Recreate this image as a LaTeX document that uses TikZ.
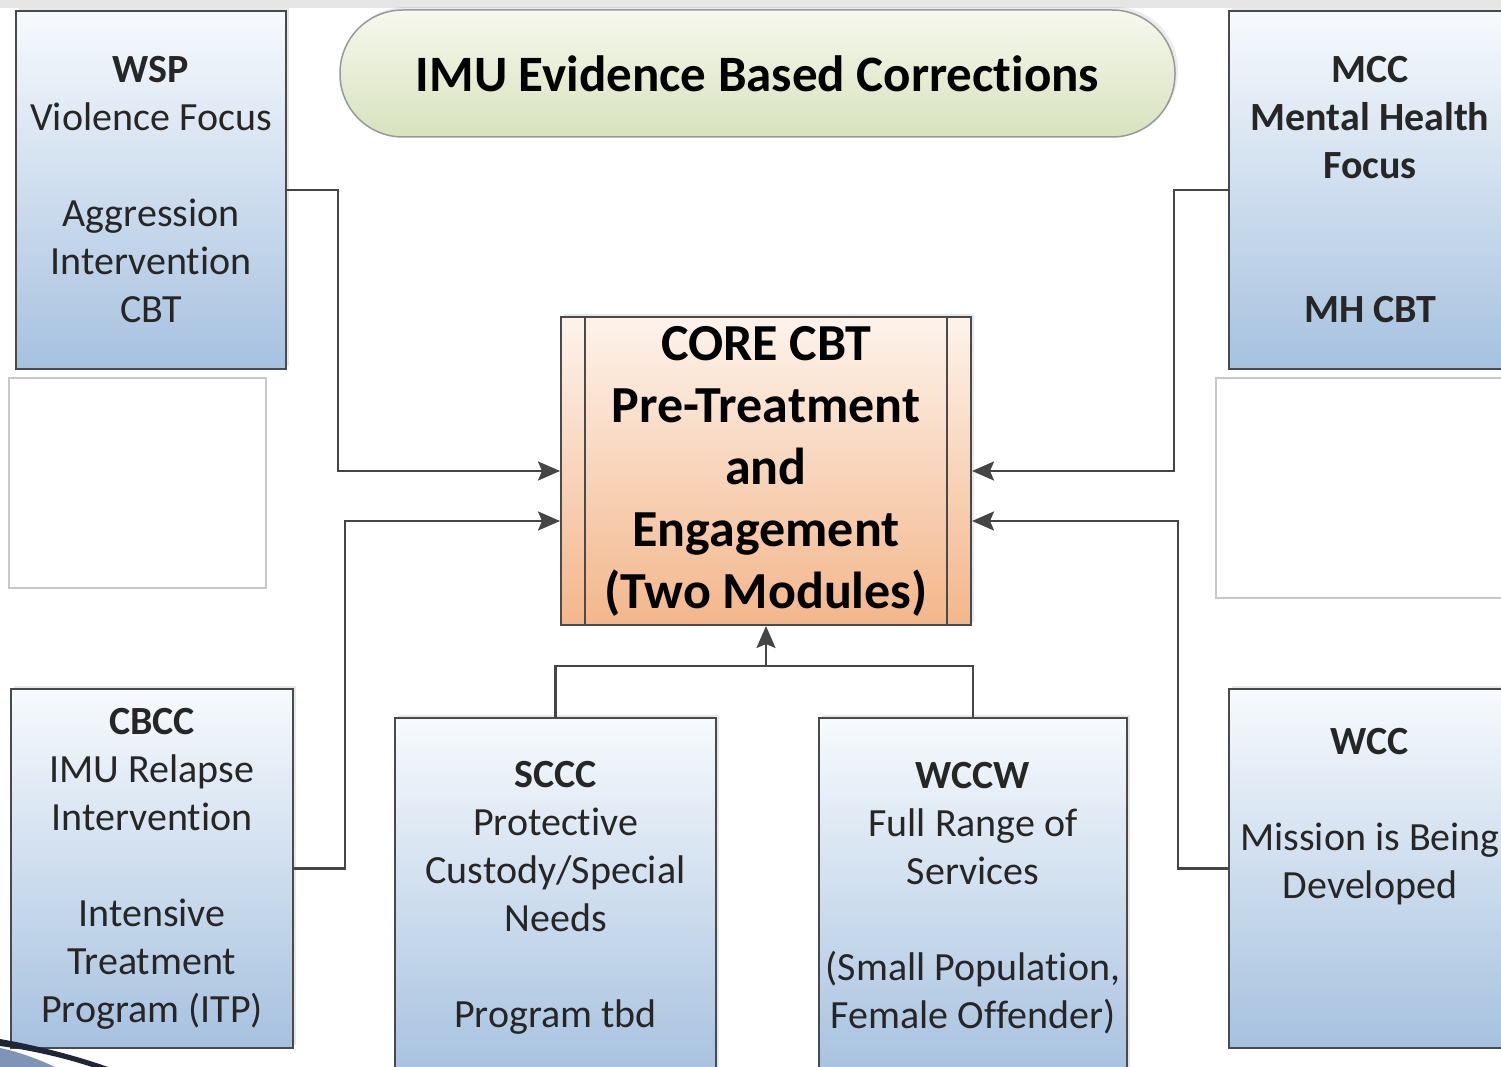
\documentclass[tikz,border=0pt]{standalone}
\usepackage{fontspec}
\setmainfont[Ligatures=NoCommon]{Carlito}
\usetikzlibrary{positioning,arrows.meta,shadows}

\definecolor{boxline}{HTML}{4A4A4A}
\definecolor{linegray}{HTML}{454545}
\definecolor{bluetop}{HTML}{F7FAFD}
\definecolor{bluebot}{HTML}{A6C1DF}
\definecolor{greentop}{HTML}{F6F8EE}
\definecolor{greenbot}{HTML}{D8E2BD}
\definecolor{orangetop}{HTML}{FDF3EB}
\definecolor{orangebot}{HTML}{F3B68B}
\definecolor{textgray}{HTML}{262626}
\definecolor{bandgray}{HTML}{E6E6E6}
\definecolor{emptyline}{HTML}{C8C8C8}
\definecolor{swooshdark}{HTML}{1E2638}
\definecolor{swooshblue}{HTML}{7F95B8}

\tikzset{
  site/.style={draw=boxline, line width=2pt, top color=bluetop, bottom color=bluebot,
    anchor=north west, inner sep=0pt, align=center, text=textgray,
    font=\fontsize{40}{48}\selectfont,
    drop shadow={opacity=0.18, shadow xshift=3pt, shadow yshift=3pt}},
  blank/.style={draw=emptyline, line width=1.5pt, anchor=north west, inner sep=0pt},
  link/.style={draw=linegray, line width=2.5pt, -{Stealth[length=22pt,width=19pt,inset=4pt]}},
  wire/.style={draw=linegray, line width=2.5pt},
}

\begin{document}
\begin{tikzpicture}[x=1pt, y=-1pt]
      \clip (0,0) rectangle (1501,1067);
      \fill[white] (0,0) rectangle (1501,1067);
      \fill[bandgray] (0,0) rectangle (1501,8);

      % empty frames
      \node[blank, minimum width=257, minimum height=210] (leftframe) at (8,377) {};
      \node[blank, minimum width=295, minimum height=220] (rightframe) at (1215,377) {};

      % title
      \node[draw=gray!80, line width=1.5pt, rounded corners=63pt, top color=greentop,
        bottom color=greenbot, minimum width=835, minimum height=127,
        font=\fontsize{51}{60}\selectfont\bfseries,
        drop shadow={opacity=0.15, shadow xshift=3pt, shadow yshift=3pt}]
        (title) at (757.5,73.5) {IMU Evidence Based Corrections};

      % core program
      \node[draw=boxline, line width=2pt, top color=orangetop, bottom color=orangebot,
        minimum width=410, minimum height=308, inner sep=0pt, align=center,
        font=\fontsize{52}{62}\selectfont\bfseries,
        drop shadow={opacity=0.18, shadow xshift=3pt, shadow yshift=3pt}]
        (core) at (766,471) {CORE CBT\\Pre-Treatment\\and\\Engagement\\(Two Modules)};
      \draw[boxline, line width=1.5pt] ([xshift=25pt]core.north west) -- ([xshift=25pt]core.south west);
      \draw[boxline, line width=1.5pt] ([xshift=-25pt]core.north east) -- ([xshift=-25pt]core.south east);

      % facilities
      \node[site, minimum width=270, minimum height=358] (wsp) at (15,10)
        {\textbf{WSP}\\Violence Focus\\ \\Aggression\\Intervention\\CBT};
      \node[site, minimum width=282, minimum height=358,
        font=\fontsize{40}{48}\selectfont\bfseries] (mcc) at (1228,10)
        {MCC\\Mental Health\\Focus\\ \\ \\MH CBT};
      \node[site, minimum width=282, minimum height=359] (cbcc) at (10,688)
        {\textbf{CBCC}\\IMU Relapse\\Intervention\\ \\Intensive\\Treatment\\Program (ITP)};
      \node[site, minimum width=321, minimum height=360] (sccc) at (394,717)
        {\textbf{SCCC}\\Protective\\Custody/Special\\Needs\\ \\Program tbd};
      \node[site, minimum width=308, minimum height=360] (wccw) at (818,717)
        {\textbf{WCCW}\\Full Range of\\Services\\ \\(Small Population,\\Female Offender)};
      \node[site, minimum width=282, minimum height=359] (wcc) at (1228,688)
        {\textbf{WCC}\\ \\Mission is Being\\Developed\\ \\ \strut};

      % connectors
      \draw[link] (wsp.east) -- ++(51,0) |- (core.west);
      \draw[link] (cbcc.east) -- ++(51,0) |- ([yshift=-50pt]core.west);
      \draw[link] (mcc.west) -- ++(-54,0) |- (core.east);
      \draw[link] (wcc.west) -- ++(-50,0) |- ([yshift=-50pt]core.east);
      \coordinate (join) at (core.south |- 0,666);
      \draw[wire] (sccc.north) |- (join) -| (wccw.north);
      \draw[link] (join) -- (core.south);

      % corner swoosh
      \fill[swooshblue] (0,1048) .. controls (20,1052) and (40,1060) .. (55,1067) -- (0,1067) -- cycle;
      \fill[swooshdark] (0,1039) .. controls (40,1046) and (80,1057) .. (108,1067)
        -- (92,1067) .. controls (65,1058) and (30,1050) .. (0,1046) -- cycle;
\end{tikzpicture}
\end{document}
